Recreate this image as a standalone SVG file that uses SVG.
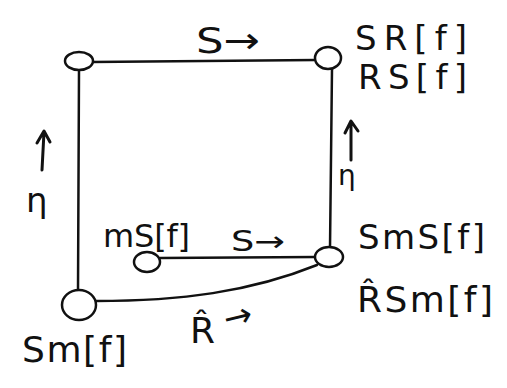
<svg xmlns="http://www.w3.org/2000/svg" width="507" height="388" viewBox="0 0 507 388">
  <style>
    .edge { fill: none; stroke: #111; stroke-width: 2.5; stroke-linecap: round; }
    .tick { fill: none; stroke: #111; stroke-width: 3; stroke-linecap: round; stroke-linejoin: round; }
    .node { fill: #fff; stroke: #111; stroke-width: 2.5; }
    text { font-family: "DejaVu Sans", "Liberation Sans", sans-serif; fill: #111; }
    .lbl { font-size: 34px; }
  </style>
  <rect width="507" height="388" fill="#fff"/>

  <!-- connectors -->
  <g id="connectors">
    <path class="edge" d="M92,62 L316,60"/>
    <path class="edge" d="M79,70 L78,290"/>
    <path class="edge" d="M332,69 L330,248"/>
    <path class="edge" d="M160,258 L316,257"/>
    <path class="edge" d="M96,301 C180,301 250,292 317,265"/>
  </g>

  <!-- edge labels -->
  <g id="edge-labels">
    <text x="196" y="53" font-size="36" textLength="64" lengthAdjust="spacingAndGlyphs">S→</text>
    <text x="231" y="251" font-size="28" textLength="54" lengthAdjust="spacingAndGlyphs">S→</text>
    <!-- upward arrows beside the vertical edges -->
    <path class="tick" d="M42,170 L44,132 M37,143 L44,131 L50,142"/>
    <text x="26" y="212" font-size="34">η</text>
    <path class="tick" d="M351,160 L351,122 M345,133 L351,121 L358,131"/>
    <text x="338" y="185" font-size="28">η</text>
    <text x="190" y="343" font-size="36">R̂</text>
    <text x="224" y="327" font-size="34" transform="rotate(-14 242 318)">→</text>
  </g>

  <g id="node-top-left">
    <ellipse class="node" cx="79" cy="61" rx="14" ry="9"/>
  </g>
  <g id="node-top-right">
    <ellipse class="node" cx="328" cy="58" rx="13" ry="11"/>
    <text class="lbl" x="355" y="50" textLength="112" lengthAdjust="spacing">SR[f]</text>
    <text class="lbl" x="358" y="89" textLength="109" lengthAdjust="spacing">RS[f]</text>
  </g>
  <g id="node-mS">
    <ellipse class="node" cx="147" cy="262" rx="13" ry="10"/>
    <text x="103" y="247" font-size="32" textLength="87" lengthAdjust="spacing">mS[f]</text>
  </g>
  <g id="node-SmS">
    <ellipse class="node" cx="329" cy="257" rx="14" ry="10"/>
    <text class="lbl" x="358" y="249" textLength="127" lengthAdjust="spacing">SmS[f]</text>
    <text x="357" y="312" font-size="36" textLength="136" lengthAdjust="spacing">R̂Sm[f]</text>
  </g>
  <g id="node-Sm">
    <ellipse class="node" cx="79" cy="305" rx="17" ry="15"/>
    <text x="22" y="362" font-size="36" textLength="105" lengthAdjust="spacing">Sm[f]</text>
  </g>
</svg>
